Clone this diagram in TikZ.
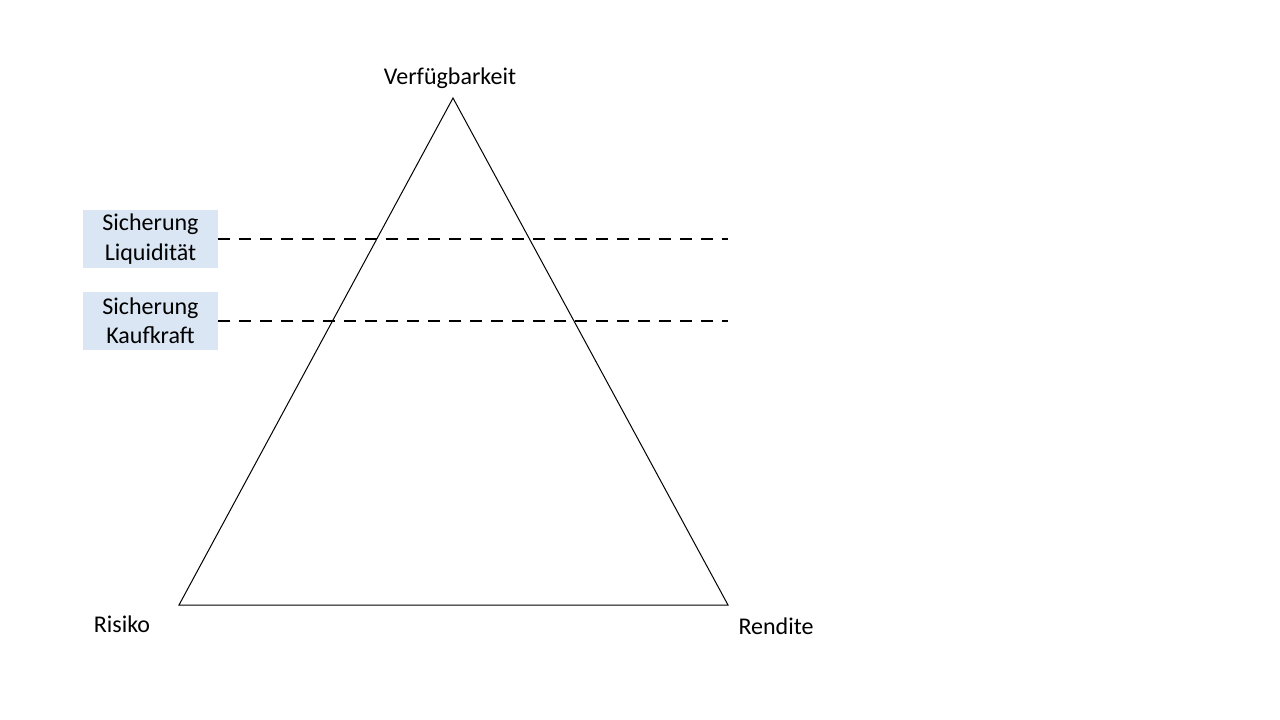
\documentclass[tikz,border=0pt]{standalone}
\usepackage{fontspec}
\setmainfont{Carlito}
\usetikzlibrary{positioning}
\definecolor{boxblue}{HTML}{DAE6F3}
\tikzset{
    goal/.style={fill=boxblue, minimum width=101pt, minimum height=43.5pt,
        align=center, inner sep=0pt, font=\fontsize{18pt}{22pt}\selectfont},
    corner/.style={font=\fontsize{18pt}{22pt}\selectfont, inner sep=0pt},
    level/.style={line width=2.2pt, dash pattern=on 9pt off 6.75pt}
}
\begin{document}
\begin{tikzpicture}[x=0.75pt, y=-0.75pt]
    \useasboundingbox (0,0) rectangle (1280,720);

    % triangle
    \coordinate (top) at (453,98);
    \coordinate (left) at (179,605);
    \coordinate (right) at (728,605);
    \draw[line width=0.75pt] (left) -- (top) -- (right) -- cycle;

    \node[corner] (verf) at (450,78) {Verfügbarkeit};
    \node[corner] (risiko) at (122,624) {Risiko};
    \node[corner] (rendite) at (776,626) {Rendite};

    % goals
    \node[goal] (liq) at (150.5,239) {Sicherung\\Liquidität};
    \node[goal] (kauf) at (150.5,321) {Sicherung\\Kaufkraft};
    \coordinate (liqend) at (728,239);
    \coordinate (kaufend) at (728,321);
    \draw[level] (liq.east) -- (liqend);
    \draw[level] (kauf.east) -- (kaufend);
\end{tikzpicture}
\end{document}
